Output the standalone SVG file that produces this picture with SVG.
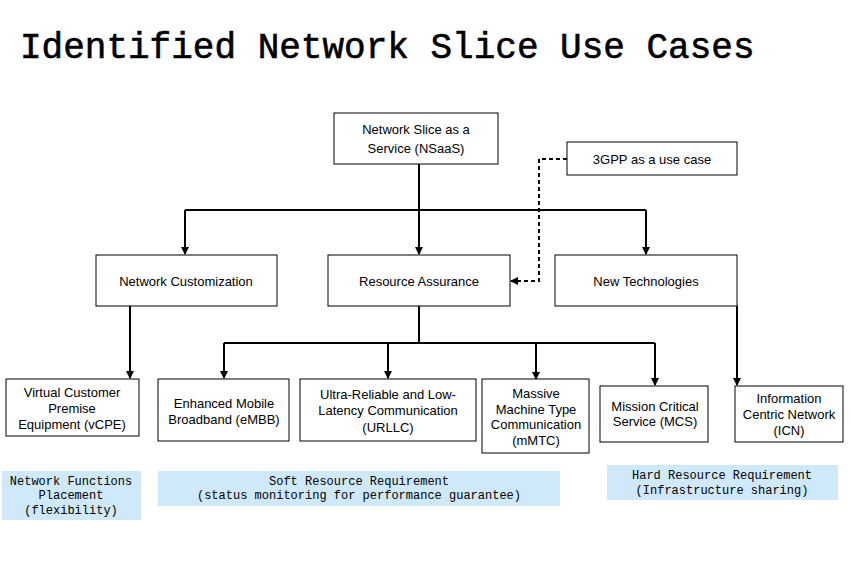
<svg xmlns="http://www.w3.org/2000/svg" width="851" height="567" viewBox="0 0 851 567">
<style>
.b{fill:#fff;stroke:#000;stroke-width:1}
.t{font-family:"Liberation Sans",Arial,sans-serif;font-size:13px;text-anchor:middle;fill:#000}
.m{font-family:"Liberation Mono","Courier New",monospace;font-size:12px;text-anchor:middle;fill:#000}
.n{fill:#cfe9fa}
.c{stroke:#000;stroke-width:2;fill:none}
</style>
<defs><marker id="a" markerWidth="8" markerHeight="8" refX="7" refY="4" orient="auto" markerUnits="userSpaceOnUse"><path d="M0,0 L8,4 L0,8 z" fill="#000"/></marker></defs>
<rect width="851" height="567" fill="#fff"/>
<text x="20" y="58" font-family="Liberation Mono,'Courier New',monospace" font-size="36" stroke="#000" stroke-width="0.6">Identified Network Slice Use Cases</text>
<g id="connectors">
<path class="c" d="M419,164V210M185,210H646"/>
<path class="c" d="M185,210V254" marker-end="url(#a)"/>
<path class="c" d="M419,210V254" marker-end="url(#a)"/>
<path class="c" d="M646,210V254" marker-end="url(#a)"/>
<path class="c" d="M567,159H539V281H511" stroke-dasharray="4,3" marker-end="url(#a)"/>
<path class="c" d="M130,306V378" marker-end="url(#a)"/>
<path class="c" d="M419,306V343M224,343H655"/>
<path class="c" d="M224,343V378" marker-end="url(#a)"/>
<path class="c" d="M388,343V378" marker-end="url(#a)"/>
<path class="c" d="M536,343V379" marker-end="url(#a)"/>
<path class="c" d="M655,343V385" marker-end="url(#a)"/>
<path class="c" d="M737,306V385" marker-end="url(#a)"/>
</g>
<g id="nsaas"><rect class="b" x="334" y="113" width="164" height="51"/><text class="t" x="416" y="134">Network Slice as a</text><text class="t" x="416" y="153">Service (NSaaS)</text></g>
<g id="3gpp"><rect class="b" x="567" y="142" width="170" height="33"/><text class="t" x="652" y="164">3GPP as a use case</text></g>
<g id="custom"><rect class="b" x="96" y="255" width="181" height="51"/><text class="t" x="186" y="286" font-size="14">Network Customization</text></g>
<g id="resource"><rect class="b" x="328" y="255" width="182" height="51"/><text class="t" x="419" y="286" font-size="14">Resource Assurance</text></g>
<g id="newtech"><rect class="b" x="555" y="255" width="182" height="51"/><text class="t" x="646" y="286" font-size="14">New Technologies</text></g>
<g id="vcpe"><rect class="b" x="6" y="379" width="133" height="57"/><text class="t" x="72" y="397">Virtual Customer</text><text class="t" x="72" y="413">Premise</text><text class="t" x="72" y="429">Equipment  (vCPE)</text></g>
<g id="embb"><rect class="b" x="158" y="379" width="131" height="62"/><text class="t" x="224" y="408">Enhanced Mobile</text><text class="t" x="224" y="424">Broadband (eMBB)</text></g>
<g id="urllc"><rect class="b" x="300" y="379" width="176" height="62"/><text class="t" x="388" y="399">Ultra-Reliable and Low-</text><text class="t" x="388" y="415">Latency Communication</text><text class="t" x="388" y="432">(URLLC)</text></g>
<g id="mmtc"><rect class="b" x="482" y="379" width="107" height="74"/><text class="t" x="536" y="398">Massive</text><text class="t" x="536" y="414">Machine Type</text><text class="t" x="536" y="429">Communication</text><text class="t" x="536" y="445">(mMTC)</text></g>
<g id="mcs"><rect class="b" x="600" y="386" width="108" height="56"/><text class="t" x="655" y="411">Mission Critical</text><text class="t" x="655" y="426">Service (MCS)</text></g>
<g id="icn"><rect class="b" x="735" y="386" width="108" height="56"/><text class="t" x="789" y="403">Information</text><text class="t" x="789" y="419">Centric Network</text><text class="t" x="789" y="435">(ICN)</text></g>
<g id="nfp"><rect class="n" x="2" y="471" width="139" height="49"/><text class="m" x="71" y="485">Network Functions</text><text class="m" x="71" y="499">Placement</text><text class="m" x="71" y="514">(flexibility)</text></g>
<g id="soft"><rect class="n" x="158" y="471" width="402" height="35"/><text class="m" x="359" y="485">Soft Resource Requirement</text><text class="m" x="359" y="499">(status monitoring for performance guarantee)</text></g>
<g id="hard"><rect class="n" x="607" y="465" width="231" height="35"/><text class="m" x="722" y="479">Hard Resource Requirement</text><text class="m" x="722" y="494">(Infrastructure sharing)</text></g>
</svg>
